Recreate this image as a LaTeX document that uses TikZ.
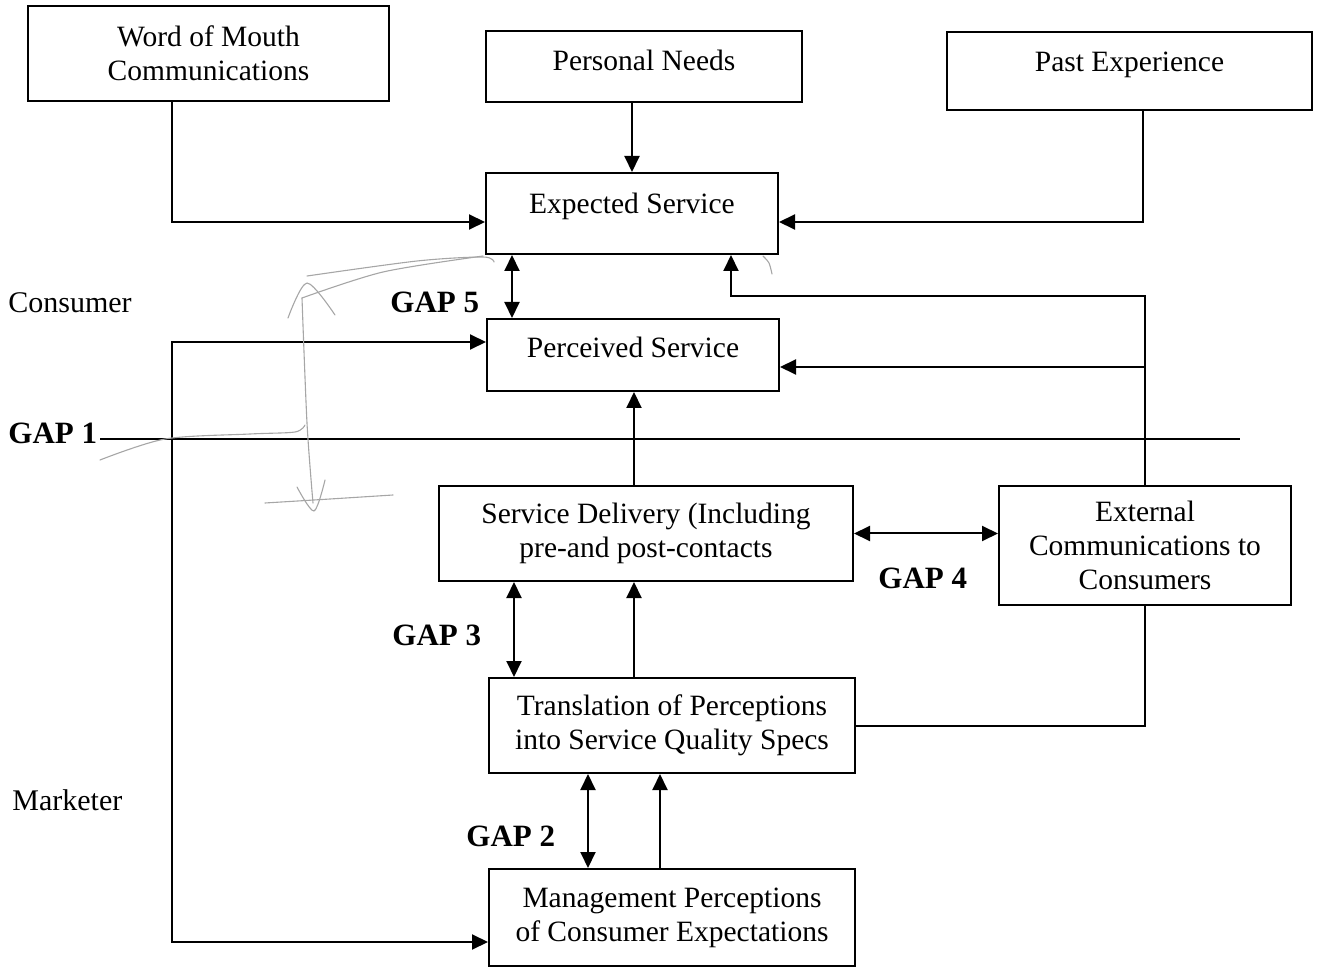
\documentclass[tikz,border=0pt]{standalone}
\usepackage{fontspec}
\setmainfont{Liberation Serif}
\usetikzlibrary{arrows.meta}
\begin{document}
\begin{tikzpicture}[x=0.5pt,y=-0.5pt,
  box/.style={draw, line width=1pt, inner sep=0pt, font=\fontsize{14.75}{17}\selectfont, align=center},
  boxone/.style={draw, line width=1pt, inner sep=0pt, font=\fontsize{14.75}{17}\selectfont, text height=10.2pt},
  lbl/.style={font=\fontsize{15}{17}\selectfont, inner sep=0pt, anchor=west},
  gaplbl/.style={font=\bfseries\fontsize{15.5}{18}\selectfont, inner sep=0pt, anchor=west},
  tip/.tip={Triangle[length=8pt,width=7.5pt]},
  arr/.style={line width=1pt, -tip},
  darr/.style={line width=1pt, tip-tip},
  ln/.style={line width=1pt},
  pencil/.style={draw=black!35, line width=0.55pt, line cap=round, line join=round}
]
\useasboundingbox (0,0) rectangle (1319,968);

% boxes
\node[box, minimum width=180.5pt, minimum height=47.5pt] (wom) at (208.5,53.5) {Word of Mouth\\Communications};
\node[boxone, minimum width=158pt, minimum height=35.5pt, text depth=5.9pt] (pn) at (644,66.5) {Personal Needs};
\node[boxone, minimum width=182.5pt, minimum height=39pt, text depth=9.2pt] (pe) at (1129.5,71) {Past Experience};
\node[boxone, minimum width=146pt, minimum height=40.5pt, text depth=9.7pt] (es) at (632,213.5) {Expected Service};
\node[boxone, minimum width=146pt, minimum height=36pt, text depth=7.2pt] (ps) at (633,355) {Perceived Service};
\node[box, minimum width=207pt, minimum height=47.5pt] (sd) at (646,533.5) {Service Delivery (Including\\pre-and post-contacts};
\node[box, minimum width=146pt, minimum height=59.5pt] (ec) at (1145,545.5) {External\\Communications to\\Consumers};
\node[box, minimum width=183pt, minimum height=47.5pt] (tr) at (672,725.5) {Translation of Perceptions\\into Service Quality Specs};
\node[box, minimum width=183pt, minimum height=48.5pt] (mp) at (672,917.5) {Management Perceptions\\of Consumer Expectations};

% labels
\node[lbl] (consumer) at (8,303) {Consumer};
\node[lbl] (marketer) at (12,800) {Marketer};
\node[gaplbl] (gap1) at (8,433) {GAP 1};
\node[gaplbl] (gap5) at (390,302) {GAP 5};
\node[gaplbl] (gap4) at (878,578) {GAP 4};
\node[gaplbl] (gap3) at (392,635) {GAP 3};
\node[gaplbl] (gap2) at (466,836) {GAP 2};

% guide coordinates
\coordinate (x172) at (172,0);
\coordinate (x1143) at (1143,0);
\coordinate (x512) at (512,0);
\coordinate (x731) at (731,0);
\coordinate (x634) at (634,0);
\coordinate (x514) at (514,0);
\coordinate (x588) at (588,0);
\coordinate (x660) at (660,0);
\coordinate (y222) at (0,222);
\coordinate (y296) at (0,296);
\coordinate (y342) at (0,342);
\coordinate (y367) at (0,367);
\coordinate (y942) at (0,942);
\coordinate (g1a) at (100,439);
\coordinate (g1b) at (1240,439);

% connectors
\draw[arr] (wom.south -| x172) |- (es.west |- y222);
\draw[arr] (pn.south -| es.north) -- (es.north);
\draw[arr] (pe.south -| x1143) |- (es.east |- y222);
\draw[darr] (es.south -| x512) -- (ps.north -| x512);
\draw[arr] (ec.north) |- (x731 |- y296) -- (es.south -| x731);
\draw[arr] (ec.north |- y367) -- (ps.east |- y367);
\draw[arr] (sd.north -| x634) -- (ps.south -| x634);
\draw[darr] (sd.east) -- (ec.west |- sd.east);
\draw[darr] (sd.south -| x514) -- (tr.north -| x514);
\draw[arr] (tr.north -| x634) -- (sd.south -| x634);
\draw[ln] (tr.east) -| (ec.south);
\draw[darr] (tr.south -| x588) -- (mp.north -| x588);
\draw[arr] (mp.north -| x660) -- (tr.south -| x660);
\draw[darr] (ps.west |- y342) -| (x172 |- y942) -- (mp.west |- y942);
\draw[ln] (g1a) -- (g1b);

% pencil marks
\draw[pencil] plot[smooth] coordinates {(307,276) (417,261) (483,257) (494,262)};
\draw[pencil] plot[smooth] coordinates {(302,298) (383,272) (483,256)};
\draw[pencil] plot[smooth] coordinates {(288,318) (307,283) (335,315)};
\draw[pencil] plot[smooth] coordinates {(302,298) (307,423) (313,503)};
\draw[pencil] plot[smooth] coordinates {(297,487) (314,511) (325,480)};
\draw[pencil] plot[smooth] coordinates {(265,503) (330,499) (393,495)};
\draw[pencil] plot[smooth] coordinates {(100,460) (165,439) (250,434) (295,432) (305,425)};
\draw[pencil] plot[smooth] coordinates {(763,256) (769,263) (772,274)};
\end{tikzpicture}
\end{document}
